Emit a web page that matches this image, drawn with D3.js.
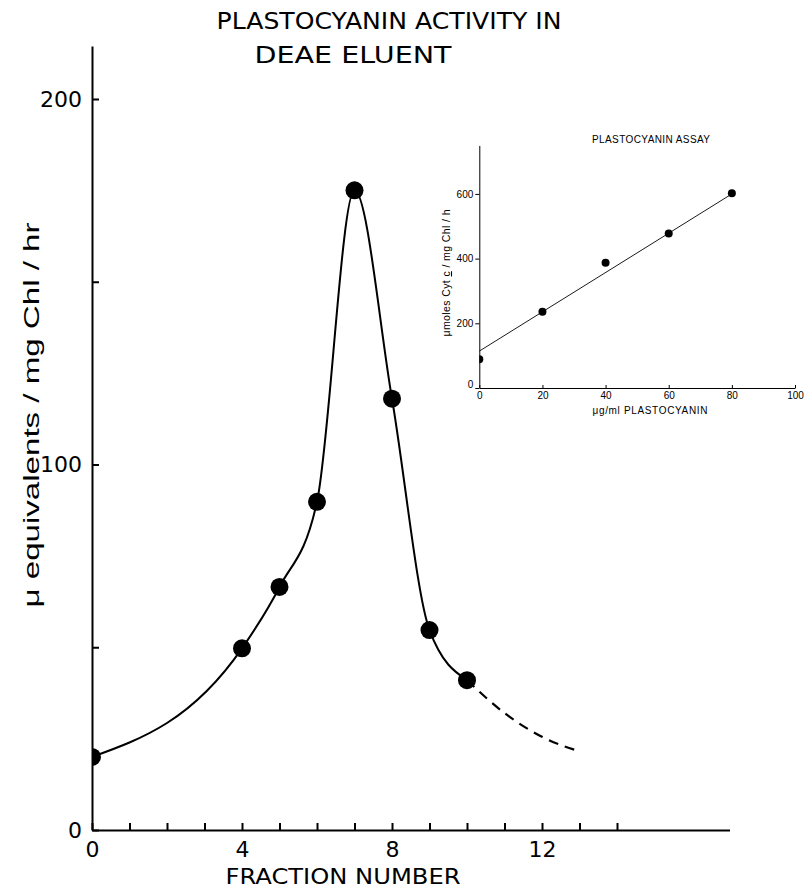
<!DOCTYPE html>
<html>
<head>
<meta charset="utf-8">
<script src="https://cdn.jsdelivr.net/npm/d3@7"></script>
<style>
  body { margin: 0; background: #fff; }
  svg { display: block; }
</style>
</head>
<body>
<svg id="canvas" width="808" height="891"></svg>
<script>
// main plot: activity per fraction
var fractions = [0, 4, 5, 6, 7, 8, 9, 10];
var activity = [20, 49.7, 66.5, 89.8, 175, 118, 54.7, 41];
// dashed extrapolation after the last fraction
var tailFractions = [10, 11, 12, 13];
var tailActivity = [41, 32, 25.5, 21.5];
var mainXTicks = [0, 1, 2, 3, 4, 5, 6, 7, 8, 9, 10, 11, 12, 13, 14];
var mainXLabels = [0, 4, 8, 12];
var mainYTicks = [0, 50, 100, 150, 200];
var mainYLabels = [0, 100, 200];

// inset: plastocyanin assay
var assayConc = [0, 20, 40, 60, 80];
var assayRate = [89, 236, 387, 478, 602];
var fitConc = [0, 80];
var fitRate = [114, 600];
var insetXTicks = [0, 20, 40, 60, 80, 100];
var insetYTicks = [0, 200, 400, 600];

var svg = d3.select("#canvas");

function zip(xs, ys) {
    return xs.map(function(d, i) { return [d, ys[i]]; });
}

// ---------- main chart ----------
var x = d3.scaleLinear().domain([0, 17]).range([92, 729.5]);
var y = d3.scaleLinear().domain([0, 214.5]).range([830, 46]);

svg.append("defs").append("clipPath").attr("id", "mainClip")
  .append("rect").attr("x", 92).attr("y", 0).attr("width", 716).attr("height", 830);

var xAxis = d3.axisBottom(x)
    .tickValues(mainXTicks)
    .tickSizeInner(-7)
    .tickSizeOuter(0)
    .tickPadding(11)
    .tickFormat(function(d) { return mainXLabels.indexOf(d) >= 0 ? d : ""; });

var yAxis = d3.axisLeft(y)
    .tickValues(mainYTicks)
    .tickSizeInner(-7)
    .tickSizeOuter(0)
    .tickPadding(10)
    .tickFormat(function(d) { return mainYLabels.indexOf(d) >= 0 ? d : ""; });

var gx = svg.append("g").attr("transform", "translate(0,830)").call(xAxis);
var gy = svg.append("g").attr("transform", "translate(92,0)").call(yAxis);

[gx, gy].forEach(function(g) {
    g.selectAll("path, line").attr("stroke", "#000").attr("stroke-width", 2);
    g.selectAll("text")
      .attr("fill", "#000")
      .attr("font-family", "DejaVu Sans")
      .attr("font-size", 22);
});

var line = d3.line()
    .x(function(d) { return x(d[0]); })
    .y(function(d) { return y(d[1]); })
    .curve(d3.curveMonotoneX);

var plot = svg.append("g").attr("clip-path", "url(#mainClip)");

plot.append("path")
    .attr("d", line(zip(fractions, activity)))
    .attr("fill", "none")
    .attr("stroke", "#000")
    .attr("stroke-width", 2);

plot.append("path")
    .attr("d", line(zip(tailFractions, tailActivity)))
    .attr("fill", "none")
    .attr("stroke", "#000")
    .attr("stroke-width", 2.2)
    .attr("stroke-dasharray", "10,7");

plot.selectAll("circle")
    .data(zip(fractions, activity))
    .enter()
    .append("circle")
    .attr("cx", function(d) { return x(d[0]); })
    .attr("cy", function(d) { return y(d[1]); })
    .attr("r", 9)
    .attr("fill", "#000");

// titles
svg.append("text")
    .attr("x", 389).attr("y", 29)
    .attr("text-anchor", "middle")
    .attr("font-family", "DejaVu Sans")
    .attr("font-size", 23)
    .attr("textLength", 345)
    .attr("lengthAdjust", "spacingAndGlyphs")
    .text("PLASTOCYANIN ACTIVITY IN");

svg.append("text")
    .attr("x", 353).attr("y", 63)
    .attr("text-anchor", "middle")
    .attr("font-family", "DejaVu Sans")
    .attr("font-size", 23)
    .attr("textLength", 197)
    .attr("lengthAdjust", "spacingAndGlyphs")
    .text("DEAE ELUENT");

svg.append("text")
    .attr("x", 343).attr("y", 884)
    .attr("text-anchor", "middle")
    .attr("font-family", "DejaVu Sans")
    .attr("font-size", 22)
    .attr("textLength", 235)
    .attr("lengthAdjust", "spacingAndGlyphs")
    .text("FRACTION NUMBER");

svg.append("text")
    .attr("transform", "translate(39,415) rotate(-90)")
    .attr("text-anchor", "middle")
    .attr("font-family", "Liberation Sans")
    .attr("font-size", 22)
    .attr("textLength", 385)
    .attr("lengthAdjust", "spacingAndGlyphs")
    .text("\u03bc equivalents / mg Chl / hr");

// ---------- inset chart ----------
var xi = d3.scaleLinear().domain([0, 100]).range([479.3, 795]);
var yi = d3.scaleLinear().domain([0, 750]).range([388, 145.4]);

svg.select("defs").append("clipPath").attr("id", "insetClip")
  .append("rect").attr("x", 479.3).attr("y", 130).attr("width", 330).attr("height", 258);

var xiAxis = d3.axisBottom(xi)
    .tickValues(insetXTicks)
    .tickSizeInner(-3)
    .tickSizeOuter(0)
    .tickPadding(4);

var yiAxis = d3.axisLeft(yi)
    .tickValues(insetYTicks)
    .tickSizeInner(4)
    .tickSizeOuter(0)
    .tickPadding(2);

var gxi = svg.append("g").attr("transform", "translate(0,388)").call(xiAxis);
var gyi = svg.append("g").attr("transform", "translate(479.3,0)").call(yiAxis);

[gxi, gyi].forEach(function(g) {
    g.selectAll("path, line").attr("stroke", "#000").attr("stroke-width", 1);
    g.selectAll("text")
      .attr("fill", "#000")
      .attr("font-family", "Liberation Sans")
      .attr("font-size", 10);
});
// the zero on the y axis sits a bit higher than the others
gyi.selectAll(".tick text").filter(function(d) { return d === 0; }).attr("dy", "-0.1em");

var inset = svg.append("g").attr("clip-path", "url(#insetClip)");

var fitLine = d3.line()
    .x(function(d) { return xi(d[0]); })
    .y(function(d) { return yi(d[1]); });

inset.append("path")
    .attr("d", fitLine(zip(fitConc, fitRate)))
    .attr("fill", "none")
    .attr("stroke", "#000")
    .attr("stroke-width", 0.9);

inset.selectAll("circle")
    .data(zip(assayConc, assayRate))
    .enter()
    .append("circle")
    .attr("cx", function(d) { return xi(d[0]); })
    .attr("cy", function(d) { return yi(d[1]); })
    .attr("r", 4)
    .attr("fill", "#000");

svg.append("text")
    .attr("x", 651).attr("y", 143)
    .attr("text-anchor", "middle")
    .attr("font-family", "Liberation Sans")
    .attr("font-size", 10)
    .attr("textLength", 118)
    .text("PLASTOCYANIN  ASSAY");

svg.append("text")
    .attr("x", 650).attr("y", 414)
    .attr("text-anchor", "middle")
    .attr("font-family", "Liberation Sans")
    .attr("font-size", 10)
    .attr("textLength", 115)
    .text("\u03bcg/ml  PLASTOCYANIN");

var ylab = svg.append("text")
    .attr("transform", "translate(450,273) rotate(-90)")
    .attr("text-anchor", "middle")
    .attr("font-family", "Liberation Sans")
    .attr("font-size", 10.5)
    .attr("textLength", 127);
ylab.append("tspan").text("\u03bcmoles Cyt ");
ylab.append("tspan").attr("text-decoration", "underline").text("c");
ylab.append("tspan").text(" / mg Chl / h");
</script>
</body>
</html>
